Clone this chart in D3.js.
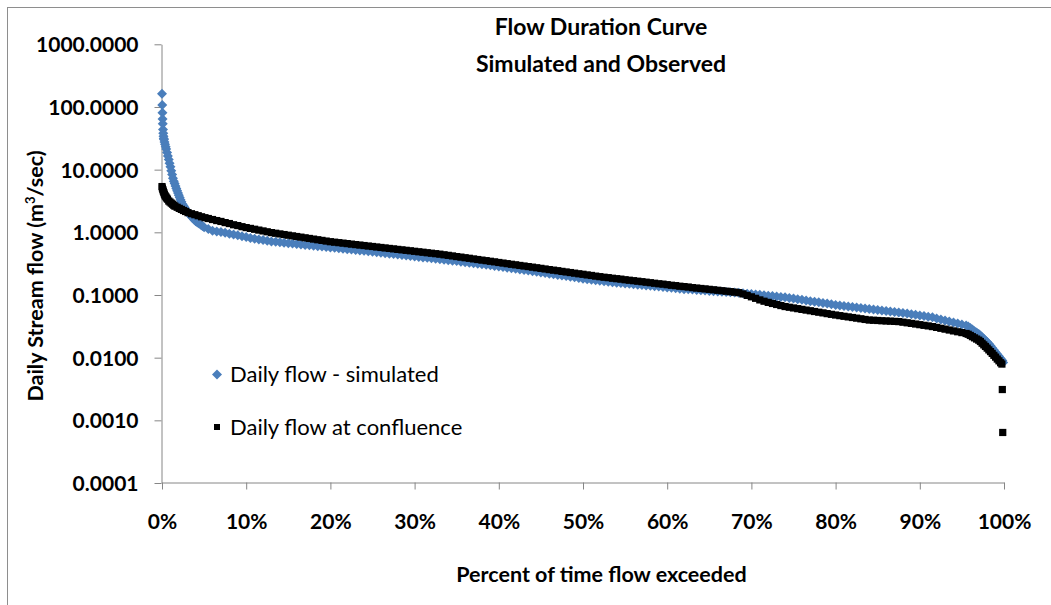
<!DOCTYPE html>
<html>
<head>
<meta charset="utf-8">
<script src="https://cdn.jsdelivr.net/npm/d3@7"></script>
<style>
  html, body { margin: 0; padding: 0; background: #fff; }
  svg { display: block; }
  text { font-family: Lato, "Open Sans", "DejaVu Sans", sans-serif; fill: #000; }
</style>
</head>
<body>
<svg id="chart" width="1051" height="605"></svg>
<script>
// Flow duration curve: [percent of time exceeded, daily flow in m3/s]
const simulated = [
  [0,162],[0.03,108],[0.05,81],[0.07,64],[0.09,54],[0.12,43.6],[0.15,38],[0.18,34],[0.21,31.5],[0.24,30.2],
  [0.3,27.5],[0.36,25.5],[0.44,23.2],[0.5,21.4],[0.6,18.8],[0.7,16.5],[0.8,14.5],[0.9,12.7],[1.0,11.1],[1.1,9.64],
  [1.2,8.38],[1.3,7.29],[1.4,6.55],[1.5,6.0],[1.6,5.5],[1.7,5.02],[1.8,4.6],[1.9,4.24],[2.0,3.91],[2.1,3.6],
  [2.2,3.32],[2.3,3.06],[2.45,2.81],[2.6,2.61],[2.75,2.43],[2.9,2.25],[3.05,2.09],[3.25,1.94],[3.4,1.84],[3.6,1.71],
  [3.8,1.6],[4.0,1.5],[4.2,1.44],[4.4,1.38],[4.6,1.32],[4.8,1.26],[5.0,1.21],[5.5,1.13],[6.0,1.06],[6.5,1.034],
  [7.0,1.01],[7.5,0.98],[8.0,0.951],[8.5,0.922],[9.0,0.894],[9.5,0.867],[10,0.841],[10.5,0.815],[11,0.791],[11.5,0.771],
  [12,0.752],[12.5,0.733],[13,0.716],[13.5,0.705],[14,0.693],[14.5,0.681],[15,0.67],[15.5,0.66],[16,0.65],[16.5,0.64],
  [17,0.63],[17.5,0.621],[18,0.612],[18.5,0.602],[19,0.593],[19.5,0.584],[20,0.575],[20.5,0.566],[21,0.557],[21.5,0.548],
  [22,0.539],[22.5,0.531],[23,0.522],[23.5,0.514],[24,0.506],[24.5,0.498],[25,0.49],[25.5,0.482],[26,0.473],[26.5,0.465],
  [27,0.457],[27.5,0.449],[28,0.442],[28.5,0.434],[29,0.427],[29.5,0.42],[30,0.412],[30.5,0.405],[31,0.398],[31.5,0.392],
  [32,0.385],[32.5,0.378],[33,0.372],[33.5,0.365],[34,0.359],[34.5,0.353],[35,0.347],[35.5,0.34],[36,0.334],[36.5,0.327],
  [37,0.321],[37.5,0.315],[38,0.309],[38.5,0.303],[39,0.297],[39.5,0.291],[40,0.285],[40.5,0.279],[41,0.273],[41.5,0.267],
  [42,0.261],[42.5,0.256],[43,0.25],[43.5,0.245],[44,0.24],[44.5,0.234],[45,0.229],[45.5,0.224],[46,0.219],[46.5,0.214],
  [47,0.209],[47.5,0.204],[48,0.2],[48.5,0.195],[49,0.191],[49.5,0.186],[50,0.182],[50.5,0.179],[51,0.175],[51.5,0.172],
  [52,0.169],[52.5,0.165],[53,0.162],[53.5,0.16],[54,0.157],[54.5,0.155],[55,0.153],[55.5,0.151],[56,0.148],[56.5,0.146],
  [57,0.144],[57.5,0.142],[58,0.14],[58.5,0.138],[59,0.136],[59.5,0.134],[60,0.132],[60.5,0.13],[61,0.128],[61.5,0.126],
  [62,0.124],[62.5,0.123],[63,0.122],[63.5,0.12],[64,0.119],[64.5,0.118],[65,0.116],[65.5,0.115],[66,0.114],[66.5,0.113],
  [67,0.112],[67.5,0.111],[68,0.11],[68.5,0.109],[69,0.107],[69.5,0.105],[70,0.104],[70.5,0.102],[71,0.101],[71.5,0.099],
  [72,0.0975],[72.5,0.096],[73,0.0945],[73.5,0.0931],[74,0.0916],[74.5,0.0895],[75,0.0875],[75.5,0.0855],[76,0.0836],[76.5,0.0817],
  [77,0.0798],[77.5,0.078],[78,0.0763],[78.5,0.0745],[79,0.0729],[79.5,0.0712],[80,0.0695],[80.5,0.0682],[81,0.067],[81.5,0.0657],
  [82,0.0645],[82.5,0.0633],[83,0.0622],[83.5,0.061],[84,0.0599],[84.5,0.0588],[85,0.0577],[85.5,0.0567],[86,0.0556],[86.5,0.0546],
  [87,0.0536],[87.5,0.0526],[88,0.0517],[88.5,0.0505],[89,0.0493],[89.5,0.0482],[90,0.0471],[90.5,0.046],[91,0.045],[91.5,0.044],
  [92,0.0422],[92.5,0.0407],[93,0.0392],[93.5,0.0378],[94,0.0364],[94.5,0.0351],[95,0.0338],[95.5,0.0326],[95.75,0.0313],[96,0.0296],
  [96.25,0.0281],[96.5,0.0265],[96.75,0.0251],[97,0.0238],[97.2,0.0226],[97.4,0.0212],[97.6,0.02],[97.8,0.0188],[98,0.0177],[98.2,0.0166],
  [98.4,0.0155],[98.6,0.0143],[98.8,0.0132],[99,0.0122],[99.2,0.0113],[99.4,0.0105],[99.6,0.0097],[99.8,0.009],[99.9,0.0084]
];

const observed = [
  [0,5.37],[0.05,5.07],[0.1,4.79],[0.16,4.53],[0.22,4.29],[0.29,4.05],[0.36,3.84],[0.45,3.69],[0.55,3.53],[0.65,3.38],
  [0.8,3.16],[0.95,3.04],[1.1,2.92],[1.25,2.81],[1.4,2.7],[1.54,2.61],[1.8,2.51],[2.05,2.41],[2.3,2.32],[2.55,2.23],
  [2.8,2.15],[3.09,2.06],[3.5,1.98],[3.9,1.91],[4.3,1.84],[4.7,1.77],[5.1,1.71],[5.5,1.66],[6,1.6],[6.5,1.54],
  [7,1.49],[7.5,1.43],[8,1.38],[8.5,1.32],[9,1.28],[9.5,1.23],[10,1.19],[10.5,1.154],[11,1.119],[11.5,1.085],
  [12,1.052],[12.5,1.02],[13,0.989],[13.5,0.966],[14,0.943],[14.5,0.921],[15,0.899],[15.5,0.878],[16,0.857],[16.5,0.837],
  [17,0.817],[17.5,0.798],[18,0.779],[18.5,0.761],[19,0.743],[19.5,0.725],[20,0.708],[20.5,0.696],[21,0.684],[21.5,0.672],
  [22,0.66],[22.5,0.648],[23,0.637],[23.5,0.626],[24,0.615],[24.5,0.604],[25,0.594],[25.5,0.583],[26,0.573],[26.5,0.563],
  [27,0.553],[27.5,0.544],[28,0.534],[28.5,0.525],[29,0.516],[29.5,0.507],[30,0.498],[30.5,0.489],[31,0.481],[31.5,0.472],
  [32,0.464],[32.5,0.456],[33,0.448],[33.5,0.438],[34,0.429],[34.5,0.42],[35,0.41],[35.5,0.402],[36,0.393],[36.5,0.385],
  [37,0.376],[37.5,0.368],[38,0.36],[38.5,0.353],[39,0.345],[39.5,0.338],[40,0.33],[40.5,0.323],[41,0.316],[41.5,0.309],
  [42,0.303],[42.5,0.296],[43,0.29],[43.5,0.284],[44,0.278],[44.5,0.272],[45,0.266],[45.5,0.26],[46,0.254],[46.5,0.249],
  [47,0.244],[47.5,0.238],[48,0.233],[48.5,0.228],[49,0.223],[49.5,0.218],[50,0.214],[50.5,0.209],[51,0.205],[51.5,0.2],
  [52,0.196],[52.5,0.192],[53,0.189],[53.5,0.185],[54,0.182],[54.5,0.179],[55,0.175],[55.5,0.172],[56,0.169],[56.5,0.166],
  [57,0.163],[57.5,0.16],[58,0.157],[58.5,0.154],[59,0.151],[59.5,0.149],[60,0.146],[60.5,0.143],[61,0.141],[61.5,0.138],
  [62,0.136],[62.5,0.134],[63,0.131],[63.5,0.129],[64,0.127],[64.5,0.125],[65,0.123],[65.5,0.121],[66,0.119],[66.5,0.117],
  [67,0.115],[67.5,0.113],[68,0.111],[68.5,0.109],[69,0.104],[69.5,0.0985],[70,0.0935],[70.5,0.0885],[71,0.0835],[71.5,0.0795],
  [72,0.0762],[72.5,0.0732],[73,0.0705],[73.5,0.0678],[74,0.0654],[74.5,0.0637],[75,0.0621],[75.5,0.0605],[76,0.0589],[76.5,0.0574],
  [77,0.056],[77.5,0.0545],[78,0.0531],[78.5,0.0518],[79,0.0504],[79.5,0.0491],[80,0.0479],[80.5,0.0468],[81,0.0457],[81.5,0.0447],
  [82,0.0437],[82.5,0.0427],[83,0.0417],[83.5,0.0407],[84,0.0398],[84.5,0.0395],[85,0.0392],[85.5,0.0388],[86,0.0385],[86.5,0.0382],
  [87,0.0379],[87.5,0.0376],[88,0.0368],[88.5,0.036],[89,0.0352],[89.5,0.0344],[90,0.0336],[90.5,0.0328],[91,0.0321],[91.5,0.0313],
  [92,0.0304],[92.5,0.0294],[93,0.0285],[93.5,0.0276],[94,0.0267],[94.5,0.0259],[95,0.0251],[95.5,0.0243],[95.75,0.0236],[96,0.0226],
  [96.25,0.0216],[96.5,0.0207],[96.75,0.0198],[97,0.019],[97.2,0.0181],[97.4,0.017],[97.6,0.016],[97.8,0.0151],[98,0.0142],[98.2,0.0133],
  [98.4,0.0125],[98.6,0.0117],[98.8,0.0109],[99,0.0102],[99.2,0.0095],[99.4,0.0089],[99.6,0.0083],[99.75,0.0079],[99.8,0.0031],[99.85,0.00064]
];

const xTicks = [0, 10, 20, 30, 40, 50, 60, 70, 80, 90, 100];
const yTicks = [0.0001, 0.001, 0.01, 0.1, 1, 10, 100, 1000];
const titleLines = ["Flow Duration Curve", "Simulated and Observed"];
const seriesNames = ["Daily flow - simulated", "Daily flow at confluence"];

const svg = d3.select("#chart");
const axisGray = "#868686";
const simBlue = "#4a7ebb";

svg.append("rect").attr("width", 1051).attr("height", 605).attr("fill", "#fff");

// outer chart frame
svg.append("rect")
  .attr("x", 7.5).attr("y", 7.5).attr("width", 1200).attr("height", 800)
  .attr("fill", "none").attr("stroke", "#8e8e8e").attr("stroke-width", 1);

const x = d3.scaleLinear().domain([0, 100]).range([162, 1004]);
const y = d3.scaleLog().domain([0.0001, 1000]).range([483, 44.3]);

// axes
const yAxis = d3.axisLeft(y).tickValues(yTicks).tickFormat(d3.format(".4f"))
  .tickSize(7).tickSizeOuter(0).tickPadding(16);
const gy = svg.append("g").attr("transform", "translate(161.5,0)").call(yAxis);

const xAxis = d3.axisBottom(x).tickValues(xTicks).tickFormat(d => d + "%")
  .tickSize(7).tickSizeOuter(0);
const gx = svg.append("g").attr("transform", "translate(0,482.5)").call(xAxis);

[gx, gy].forEach(g => {
  g.select(".domain").attr("stroke", axisGray);
  g.selectAll(".tick line").attr("stroke", axisGray);
  g.selectAll(".tick text")
    .attr("font-family", "Lato, 'Open Sans', sans-serif")
    .attr("font-weight", "bold").attr("font-size", 21).attr("fill", "#000");
});
gy.selectAll(".tick text").attr("dy", "0.36em");
gx.selectAll(".tick text").attr("y", 46.5).attr("dy", null);

// series markers: simulated underneath, observed on top
const diamond = r => `M0,${-r}L${r},0L0,${r}L${-r},0Z`;

svg.append("g").selectAll("path")
  .data(simulated).join("path")
  .attr("d", diamond(5))
  .attr("transform", d => `translate(${x(d[0])},${y(d[1])})`)
  .attr("fill", simBlue);

const square = d3.symbol(d3.symbolSquare, 52);
svg.append("g").selectAll("path")
  .data(observed).join("path")
  .attr("d", square)
  .attr("transform", d => `translate(${x(d[0])},${y(d[1])})`)
  .attr("fill", "#000");

// title
svg.append("text")
  .attr("x", 601).attr("y", 34.5).attr("text-anchor", "middle")
  .attr("font-weight", "bold").attr("font-size", 23)
  .text(titleLines[0]);
svg.append("text")
  .attr("x", 601).attr("y", 71.5).attr("text-anchor", "middle")
  .attr("font-weight", "bold").attr("font-size", 23)
  .text(titleLines[1]);

// axis titles
svg.append("text")
  .attr("x", 601.5).attr("y", 582).attr("text-anchor", "middle")
  .attr("font-weight", "bold").attr("font-size", 21.5)
  .text("Percent of time flow exceeded");

const yt = svg.append("text")
  .attr("transform", "translate(43,276) rotate(-90)")
  .attr("text-anchor", "middle")
  .attr("font-weight", "bold").attr("font-size", 21.5);
yt.append("tspan").text("Daily Stream flow (m");
yt.append("tspan").attr("font-size", 13).attr("dy", -8).text("3");
yt.append("tspan").attr("dy", 8).text("/sec)");

// legend
const legend = svg.append("g");
legend.append("path").attr("d", diamond(5)).attr("transform", "translate(217,374.5)").attr("fill", simBlue);
legend.append("text").attr("x", 230).attr("y", 382).attr("font-size", 22).text(seriesNames[0]);
legend.append("path").attr("d", d3.symbol(d3.symbolSquare, 36)).attr("transform", "translate(217,427)").attr("fill", "#000");
legend.append("text").attr("x", 230).attr("y", 434.5).attr("font-size", 22).text(seriesNames[1]);
</script>
</body>
</html>
